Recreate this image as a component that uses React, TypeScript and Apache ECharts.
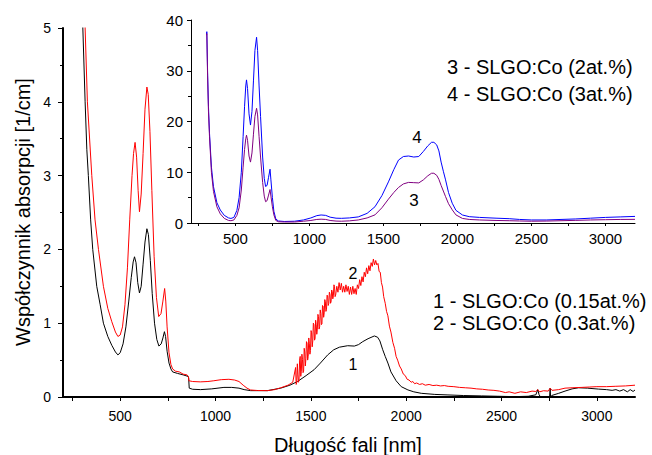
import React, { useEffect, useRef } from "react";
import * as echarts from "echarts";

const FONT = "'Liberation Sans', Arial, sans-serif";

// Tick values (nm)
const xLabelValues = [500, 1000, 1500, 2000, 2500, 3000];
const xTickValues = [250, 500, 750, 1000, 1250, 1500, 1750, 2000, 2250, 2500, 2750, 3000];

// Curve 1 - SLGO:Co (0.15at.%) [nm, 1/cm]
const curve1: number[][] = [
  [295, 8], [304, 5.0], [316, 4.0], [325, 3.35], [333, 3.0], [345, 2.4], [356, 2.0], [377, 1.5],
  [395, 1.25], [412, 1.0], [435, 0.82], [456, 0.7], [475, 0.61], [488, 0.57], [500, 0.6],
  [515, 0.72], [530, 0.95], [545, 1.3], [558, 1.62], [568, 1.83], [575, 1.9], [583, 1.82],
  [592, 1.55], [601, 1.41], [610, 1.5], [620, 1.8], [630, 2.1], [640, 2.28], [648, 2.2],
  [658, 1.85], [668, 1.4], [680, 1.0], [692, 0.78], [703, 0.69], [715, 0.72], [724, 0.8],
  [732, 0.885], [738, 0.82], [746, 0.62], [756, 0.46], [766, 0.38], [775, 0.34], [800, 0.32],
  [830, 0.3], [855, 0.28], [859, 0.26], [862, 0.12], [880, 0.105], [921, 0.1], [980, 0.11],
  [1044, 0.13], [1085, 0.13], [1123, 0.12], [1150, 0.1], [1184, 0.086], [1272, 0.086],
  [1342, 0.12], [1390, 0.16], [1430, 0.21], [1475, 0.29], [1517, 0.37], [1550, 0.46],
  [1588, 0.57], [1620, 0.64], [1650, 0.675], [1693, 0.695], [1728, 0.69], [1750, 0.71],
  [1772, 0.75], [1800, 0.79], [1833, 0.827], [1850, 0.81], [1862, 0.76], [1877, 0.64],
  [1890, 0.55], [1904, 0.46], [1920, 0.34], [1947, 0.22], [1974, 0.14], [2009, 0.096],
  [2040, 0.07], [2079, 0.05], [2150, 0.035], [2219, 0.028], [2300, 0.02], [2395, 0.015],
  [2480, 0.01], [2570, 0.005], [2640, 0.01], [2680, 0.03], [2690, 0.1], [2697, 0.03],
  [2705, 0.0], [2730, 0.0], [2752, 0.0], [2755, 0.12], [2758, -0.03], [2763, 0.02],
  [2800, 0.05], [2833, 0.08], [2870, 0.11], [2904, 0.125], [2950, 0.12], [3009, 0.107],
  [3050, 0.1], [3080, 0.09], [3100, 0.1], [3120, 0.08], [3140, 0.1], [3160, 0.07],
  [3175, 0.1], [3190, 0.075], [3200, 0.095],
];

// Curve 2 - SLGO:Co (0.3at.%)
const curve2: number[][] = [
  [308, 8], [316, 5.0], [328, 4.0], [351, 3.0], [368, 2.4], [386, 2.0], [412, 1.5], [435, 1.2],
  [456, 1.02], [475, 0.88], [488, 0.82], [500, 0.84], [512, 0.95], [525, 1.25], [538, 1.75],
  [550, 2.4], [562, 3.0], [570, 3.3], [578, 3.45], [586, 3.25], [594, 2.8], [601, 2.51],
  [610, 2.75], [620, 3.3], [630, 3.9], [640, 4.2], [647, 4.1], [656, 3.6], [666, 2.8],
  [678, 1.9], [690, 1.35], [702, 1.09], [714, 1.13], [724, 1.3], [733, 1.47], [739, 1.3],
  [746, 0.95], [756, 0.6], [766, 0.44], [775, 0.38], [790, 0.35], [810, 0.34], [830, 0.31],
  [850, 0.3], [858, 0.28], [860, 0.22], [880, 0.21], [920, 0.205], [960, 0.21], [991, 0.22],
  [1030, 0.235], [1070, 0.24], [1100, 0.23], [1123, 0.21], [1145, 0.16], [1165, 0.12],
  [1184, 0.095], [1220, 0.088], [1272, 0.086], [1310, 0.1], [1342, 0.125], [1380, 0.16],
  [1405, 0.2], [1420, 0.4], [1423, 0.17], [1426, 0.2], [1429, 0.45], [1432, 0.3], [1435, 0.2],
  [1438, 0.24], [1441, 0.5], [1444, 0.55], [1447, 0.28], [1450, 0.35], [1453, 0.58],
  [1456, 0.51], [1459, 0.33], [1462, 0.35], [1465, 0.66], [1468, 0.61], [1471, 0.42],
  [1474, 0.52], [1477, 0.75], [1480, 0.73], [1483, 0.5], [1486, 0.55], [1489, 0.8],
  [1492, 0.73], [1495, 0.58], [1498, 0.63], [1501, 0.9], [1504, 0.87], [1507, 0.68],
  [1510, 0.76], [1513, 1.0], [1516, 0.98], [1519, 0.77], [1522, 0.79], [1525, 1.04],
  [1528, 0.98], [1531, 0.85], [1534, 0.92], [1537, 1.12], [1540, 1.09], [1543, 0.92],
  [1546, 0.95], [1549, 1.18], [1552, 1.13], [1555, 0.98], [1558, 0.99], [1561, 1.24],
  [1564, 1.23], [1567, 1.08], [1570, 1.14], [1573, 1.32], [1576, 1.29], [1579, 1.16],
  [1582, 1.19], [1585, 1.38], [1588, 1.37], [1591, 1.24], [1594, 1.27], [1597, 1.42],
  [1600, 1.39], [1603, 1.27], [1606, 1.29], [1609, 1.45], [1612, 1.43], [1615, 1.33],
  [1618, 1.37], [1621, 1.52], [1624, 1.5], [1627, 1.36], [1630, 1.38], [1636, 1.5],
  [1642, 1.42], [1648, 1.55], [1654, 1.45], [1660, 1.54],
  [1666, 1.42], [1672, 1.5], [1678, 1.42], [1684, 1.52], [1690, 1.43], [1696, 1.5],
  [1702, 1.39], [1708, 1.49], [1714, 1.39], [1720, 1.5], [1726, 1.4], [1732, 1.47],
  [1738, 1.39], [1744, 1.52], [1750, 1.47], [1756, 1.59], [1762, 1.51], [1768, 1.63],
  [1774, 1.56], [1780, 1.69], [1786, 1.63], [1792, 1.75], [1798, 1.67], [1804, 1.78],
  [1810, 1.71], [1816, 1.82], [1822, 1.77], [1828, 1.87], [1834, 1.79], [1840, 1.85],
  [1846, 1.79], [1852, 1.81], [1858, 1.7], [1864, 1.69], [1870, 1.55], [1876, 1.49],
  [1882, 1.36], [1890, 1.27], [1897, 1.16], [1904, 1.1], [1912, 0.96], [1920, 0.88],
  [1930, 0.74], [1939, 0.66], [1947, 0.55], [1955, 0.5], [1965, 0.42], [1974, 0.38],
  [1985, 0.31], [1995, 0.29], [2005, 0.24], [2015, 0.23], [2026, 0.2], [2035, 0.21],
  [2044, 0.18], [2055, 0.19], [2070, 0.17], [2085, 0.18], [2100, 0.16], [2120, 0.17],
  [2140, 0.155], [2160, 0.16], [2180, 0.15], [2200, 0.155], [2220, 0.145], [2250, 0.14],
  [2280, 0.13], [2310, 0.125], [2340, 0.12], [2370, 0.11], [2400, 0.105], [2430, 0.095],
  [2460, 0.09], [2490, 0.08], [2520, 0.06], [2540, 0.07], [2570, 0.05], [2600, 0.07],
  [2630, 0.06], [2660, 0.08], [2680, 0.075], [2690, 0.1], [2700, 0.07], [2720, 0.085],
  [2745, 0.08], [2755, 0.12], [2765, 0.09], [2800, 0.1], [2833, 0.12], [2870, 0.125],
  [2921, 0.13], [2960, 0.135], [3000, 0.14], [3050, 0.14], [3096, 0.145], [3150, 0.15],
  [3200, 0.16],
];

// Inset curve 3 - SLGO:Co (2at.%)
const curve3: number[][] = [
  [305, 37.0], [307, 37.3], [312, 29], [318, 22], [325, 17], [338, 10], [352, 6.2], [375, 3.2],
  [398, 1.8], [425, 0.9], [454, 0.5], [470, 0.45], [490, 0.6], [510, 1.5], [525, 3.0],
  [540, 6.5], [552, 11], [562, 14.5], [570, 16.6], [575, 17.3], [582, 16.3], [592, 13.2],
  [602, 12.0], [612, 13.8], [622, 17.5], [632, 21], [643, 22.6], [650, 21.3], [660, 17],
  [670, 13], [684, 8], [695, 5.3], [704, 4.2], [714, 4.4], [724, 5.5], [734, 6.6], [740, 5.3],
  [750, 3.2], [760, 1.6], [773, 0.5], [790, 0.25], [830, 0.2], [900, 0.2], [960, 0.35],
  [1010, 0.5], [1050, 0.7], [1079, 0.75], [1110, 0.7], [1140, 0.5], [1180, 0.38], [1216, 0.35],
  [1270, 0.42], [1330, 0.6], [1390, 1.0], [1443, 1.6], [1490, 3.0], [1534, 4.7], [1570, 6.0],
  [1602, 7.0], [1635, 7.7], [1670, 8.0], [1705, 7.95], [1739, 7.9], [1770, 8.5], [1800, 9.3],
  [1825, 9.8], [1841, 9.8], [1860, 9.4], [1875, 8.6], [1890, 7.4], [1905, 6.3], [1920, 5.2],
  [1940, 3.8], [1965, 2.6], [1990, 1.6], [2034, 0.9], [2080, 0.7], [2150, 0.6], [2261, 0.5],
  [2350, 0.45], [2420, 0.4], [2500, 0.35], [2600, 0.38], [2700, 0.45], [2800, 0.52],
  [2900, 0.6], [3000, 0.65], [3100, 0.7], [3200, 0.72],
];

// Inset curve 4 - SLGO:Co (3at.%)
const curve4: number[][] = [
  [305, 37.2], [307, 37.7], [312, 30], [318, 23], [325, 17.7], [338, 11], [352, 7.15], [375, 4.0],
  [398, 2.56], [425, 1.5], [454, 1.0], [470, 0.9], [490, 1.1], [510, 2.5], [525, 5.0],
  [540, 10], [552, 17], [562, 23], [570, 27], [575, 28.2], [582, 26.5], [592, 21.5],
  [602, 19.3], [612, 22], [622, 28], [632, 34], [643, 36.6], [650, 34], [660, 27], [670, 21],
  [684, 13], [695, 8.8], [704, 7.2], [714, 7.4], [724, 9], [734, 10.6], [740, 8.5], [750, 5],
  [760, 2.3], [773, 0.8], [790, 0.4], [830, 0.3], [900, 0.35], [960, 0.6], [1010, 1.0],
  [1050, 1.45], [1079, 1.58], [1110, 1.5], [1140, 1.15], [1180, 0.95], [1216, 0.92],
  [1270, 1.0], [1330, 1.2], [1390, 1.9], [1443, 3.2], [1490, 5.4], [1534, 8.1], [1570, 10.5],
  [1602, 12.4], [1635, 13.1], [1670, 13.2], [1705, 13.0], [1739, 13.1], [1770, 14.1],
  [1800, 15.2], [1825, 15.9], [1841, 15.9], [1860, 15.4], [1875, 14.2], [1890, 12.0],
  [1905, 10.2], [1920, 8.5], [1940, 6.0], [1965, 3.9], [1990, 2.5], [2034, 1.58], [2080, 1.25],
  [2150, 1.1], [2261, 0.95], [2350, 0.85], [2420, 0.7], [2500, 0.6], [2600, 0.6], [2700, 0.7],
  [2800, 0.8], [2900, 0.95], [3000, 1.1], [3100, 1.2], [3200, 1.3],
];

const legendMain = ["1 - SLGO:Co (0.15at.%)", "2 - SLGO:Co (0.3at.%)"];
const legendInset = ["3 - SLGO:Co (2at.%)", "4 - SLGO:Co (3at.%)"];
const xTitle = "Długość fali [nm]";
const yTitle = "Współczynnik absorpcji [1/cm]";

function txt(x: number, y: number, text: string, size: number, align = "left", rotation = 0) {
  return {
    type: "text",
    x,
    y,
    rotation,
    silent: true,
    style: {
      text,
      fill: "#000",
      font: `${size}px ${FONT}`,
      fontSize: size,
      fontFamily: FONT,
      align,
      verticalAlign: "middle",
      textAlign: align,
      textVerticalAlign: "middle",
    },
  };
}

const plain = (v: number) => String(v);

export default function App() {
  const ref = useRef<HTMLDivElement>(null);
  useEffect(() => {
    if (!ref.current) return;
    const chart = echarts.init(ref.current, undefined, { renderer: "svg" });
    const axisCommonX = (gridIndex: number, lw: number, fs: number, margin: number, tl: number) => ({
      gridIndex,
      type: "value",
      min: 200,
      max: 3200,
      splitLine: { show: false },
      axisLine: { show: true, onZero: false, lineStyle: { color: "#000", width: lw } },
      axisTick: { show: true, inside: false, length: tl, customValues: xTickValues, lineStyle: { color: "#000", width: 1 } },
      axisLabel: { customValues: xLabelValues, formatter: plain, fontSize: fs, color: "#000", fontFamily: FONT, margin },
    });
    const option: any = {
      animation: false,
      backgroundColor: "#fff",
      grid: [
        { left: 63, right: 17, top: 28, bottom: 58 },
        { left: 191, right: 17, top: 20, height: 203 },
      ],
      xAxis: [axisCommonX(0, 2, 14, 12, 4), axisCommonX(1, 1, 15, 8, 3)],
      yAxis: [
        {
          gridIndex: 0,
          type: "value",
          min: 0,
          max: 5,
          interval: 1,
          splitLine: { show: false },
          axisLine: { show: true, lineStyle: { color: "#000", width: 2 } },
          axisTick: { show: true, length: 5, lineStyle: { color: "#000", width: 1 } },
          minorTick: { show: true, splitNumber: 2, length: 3, lineStyle: { color: "#000", width: 1 } },
          axisLabel: { formatter: plain, fontSize: 14, color: "#000", fontFamily: FONT, margin: 12 },
        },
        {
          gridIndex: 1,
          type: "value",
          min: 0,
          max: 40,
          interval: 10,
          splitLine: { show: false },
          axisLine: { show: true, lineStyle: { color: "#000", width: 1 } },
          axisTick: { show: true, length: 4, lineStyle: { color: "#000", width: 1 } },
          minorTick: { show: true, splitNumber: 2, length: 3, lineStyle: { color: "#000", width: 1 } },
          axisLabel: { formatter: plain, fontSize: 15, color: "#000", fontFamily: FONT, margin: 8 },
        },
      ],
      series: [
        { type: "line", xAxisIndex: 0, yAxisIndex: 0, data: curve1, symbol: "none", silent: true, clip: true, lineStyle: { color: "#000000", width: 1 } },
        { type: "line", xAxisIndex: 0, yAxisIndex: 0, data: curve2, symbol: "none", silent: true, clip: true, lineStyle: { color: "#ff0000", width: 1 } },
        { type: "line", xAxisIndex: 1, yAxisIndex: 1, data: curve4, symbol: "none", silent: true, clip: true, lineStyle: { color: "#0000ff", width: 1 } },
        { type: "line", xAxisIndex: 1, yAxisIndex: 1, data: curve3, symbol: "none", silent: true, clip: true, lineStyle: { color: "#800080", width: 1 } },
      ],
      graphic: [
        txt(433, 301, legendMain[0], 20),
        txt(433, 323, legendMain[1], 20),
        txt(447, 67, legendInset[0], 20),
        txt(447, 94, legendInset[1], 20),
        txt(353, 273, "2", 16, "center"),
        txt(353, 364, "1", 16, "center"),
        txt(417, 137, "4", 17, "center"),
        txt(414, 200, "3", 17, "center"),
        txt(348, 445, xTitle, 20, "center"),
        txt(23, 212, yTitle, 20, "center", Math.PI / 2),
      ],
    };
    chart.setOption(option);
    return () => chart.dispose();
  }, []);
  return (
    <div
      ref={ref}
      style={{ position: "absolute", left: 0, top: 0, width: 652, height: 455, background: "#fff" }}
    />
  );
}
